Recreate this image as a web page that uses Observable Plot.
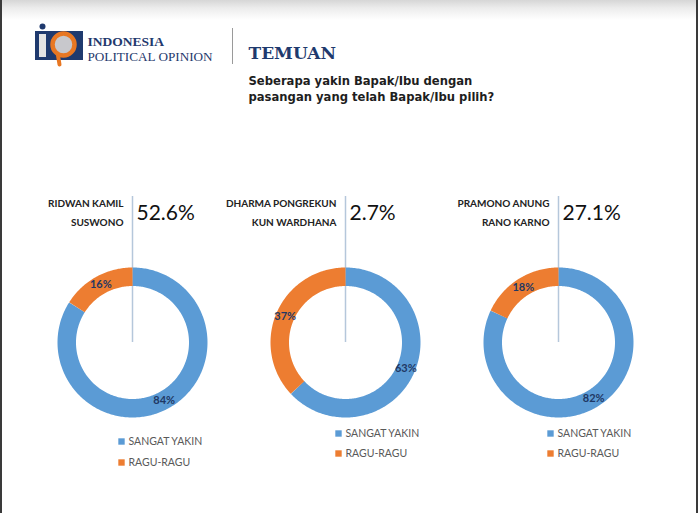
<!DOCTYPE html>
<html>
<head>
<meta charset="utf-8">
<script src="https://cdn.jsdelivr.net/npm/d3@7"></script>
<script src="https://cdn.jsdelivr.net/npm/@observablehq/plot@0.6"></script>
<style>
  html, body { margin: 0; padding: 0; }
  body { width: 698px; height: 513px; overflow: hidden;
         background: linear-gradient(#d6d6d6 0px, #ececec 8px, #ffffff 20px); }
  #wrap { position: relative; width: 698px; height: 513px;
          box-shadow: inset 2px 0 0 #3a3a3a, inset -2px 0 0 #3a3a3a; }
  #wrap svg { position: absolute; left: 0; top: 0; }
</style>
</head>
<body>
<div id="wrap"></div>
<script>
// ---------- data ----------
const nameLine1 = ["RIDWAN KAMIL", "DHARMA PONGREKUN", "PRAMONO ANUNG"];
const nameLine2 = ["SUSWONO", "KUN WARDHANA", "RANO KARNO"];
const electability = [52.6, 2.7, 27.1];
const categories = ["SANGAT YAKIN", "RAGU-RAGU"];
const sangatYakin = [84, 63, 82];
const raguRagu = [16, 37, 18];
const headerTitle = "TEMUAN";
const questionLines = ["Seberapa yakin Bapak/Ibu dengan", "pasangan yang telah Bapak/Ibu pilih?"];
const brandLines = ["INDONESIA", "POLITICAL OPINION"];

// ---------- layout / style ----------
const W = 698, H = 513;
const colors = ["#5b9bd5", "#ed7d31"];
const centersX = [132, 345, 558];
const centerY = 342;
const rOuter = 75, ring = 18.5, rMid = rOuter - ring / 2;
const legendPos = [[121, 441, 21], [338, 433, 20], [550, 433, 20]];
const navy = "#1f3a6e";
const sans = "Lato, 'Open Sans', sans-serif";

// donut arcs
const arcPts = [];
const sliceLabels = [];
sangatYakin.forEach((v0, i) => {
  const vals = [sangatYakin[i], raguRagu[i]];
  let start = 0;
  vals.forEach((v, j) => {
    const a0 = start / 100 * 2 * Math.PI, a1 = (start + v) / 100 * 2 * Math.PI;
    const n = Math.max(2, Math.ceil(v * 3.6));
    for (let k = 0; k <= n; k++) {
      const a = a0 + (a1 - a0) * k / n;
      arcPts.push({key: i + "-" + j, cat: categories[j],
        x: centersX[i] + rMid * Math.sin(a), y: centerY - rMid * Math.cos(a)});
    }
    const am = (a0 + a1) / 2;
    sliceLabels.push({text: v + "%",
      x: centersX[i] + rMid * Math.sin(am), y: centerY - rMid * Math.cos(am)});
    start += v;
  });
});

const charts = nameLine1.map((n, i) => ({i, n1: n, n2: nameLine2[i], pct: electability[i], cx: centersX[i]}));
const legendItems = [];
charts.forEach(c => categories.forEach((cat, j) => {
  const [lx, ly, step] = legendPos[c.i];
  legendItems.push({cat, x: lx, y: ly + j * step});
}));

const plot = Plot.plot({
  width: W, height: H,
  margin: 0,
  style: {background: "transparent", overflow: "visible"},
  x: {type: "linear", domain: [0, W], range: [0, W], axis: null},
  y: {type: "linear", domain: [0, H], range: [0, H], axis: null},
  color: {domain: categories, range: colors},
  marks: [
    // logo
    Plot.rect([0], {x1: 35, x2: 83, y1: 31, y2: 60, fill: navy}),
    Plot.dot([0], {x: 42, y: 26, r: 3, fill: navy}),
    Plot.rect([0], {x1: 39, x2: 46, y1: 34, y2: 57, fill: "#e4e4e4"}),
    Plot.line([{x: 57, y: 52}, {x: 59, y: 64}], {x: "x", y: "y", stroke: "#e87722", strokeWidth: 4}),
    Plot.dot([0], {x: 63, y: 44, r: 11, fill: "#c8c8cc", stroke: "#e87722", strokeWidth: 4.5}),
    Plot.text([brandLines[0]], {x: 87, y: 45.5, text: d => d, textAnchor: "start", lineAnchor: "bottom",
      fontFamily: "'Liberation Serif', serif", fontWeight: "bold", fontSize: 13.5, fill: navy}),
    Plot.text([brandLines[1]], {x: 87, y: 60.5, text: d => d, textAnchor: "start", lineAnchor: "bottom",
      fontFamily: "'Liberation Serif', serif", fontSize: 13.2, fill: navy}),
    Plot.ruleX([232], {y1: 28, y2: 64, stroke: "#9a9a9a", strokeWidth: 1}),
    Plot.text([headerTitle], {x: 248, y: 58, text: d => d, textAnchor: "start", lineAnchor: "bottom",
      fontFamily: "'DejaVu Serif', serif", fontWeight: "bold", fontSize: 17, fill: navy}),
    Plot.text(questionLines, {x: 248, y: (d, i) => 84 + i * 16, text: d => d, textAnchor: "start", lineAnchor: "bottom",
      fontFamily: "'DejaVu Sans', Verdana, sans-serif", fontWeight: "bold", fontSize: 11.6, fill: "#1e1e1e"}),
    // candidate headers
    Plot.ruleX(charts, {x: "cx", y1: 196, y2: centerY, stroke: "#b5c7db", strokeWidth: 1.5}),
    Plot.text(charts, {x: d => d.cx - 9, y: 203, text: "n1", textAnchor: "end",
      fontFamily: sans, fontWeight: 700, fontSize: 10, fill: "#222"}),
    Plot.text(charts, {x: d => d.cx - 9, y: 222, text: "n2", textAnchor: "end",
      fontFamily: sans, fontWeight: 700, fontSize: 10, fill: "#222"}),
    Plot.text(charts, {x: d => d.cx + 4, y: 213, text: d => d.pct + "%", textAnchor: "start",
      fontFamily: sans, fontSize: 21, fill: "#111"}),
    // donuts
    Plot.line(arcPts, {x: "x", y: "y", z: "key", stroke: "cat", strokeWidth: ring,
      strokeLinecap: "butt", strokeLinejoin: "round", curve: "linear"}),
    Plot.text(sliceLabels, {x: "x", y: "y", text: "text", fontFamily: sans, fontWeight: 700,
      fontSize: 11, fill: "#1f3864"}),
    // legends
    Plot.dot(legendItems, {x: "x", y: "y", symbol: "square", r: 3.6, fill: "cat"}),
    Plot.text(legendItems, {x: d => d.x + 7, y: "y", text: "cat", textAnchor: "start",
      fontFamily: sans, fontSize: 10.5, fill: "#595959"})
  ]
});
document.getElementById("wrap").appendChild(plot);
</script>
</body>
</html>
